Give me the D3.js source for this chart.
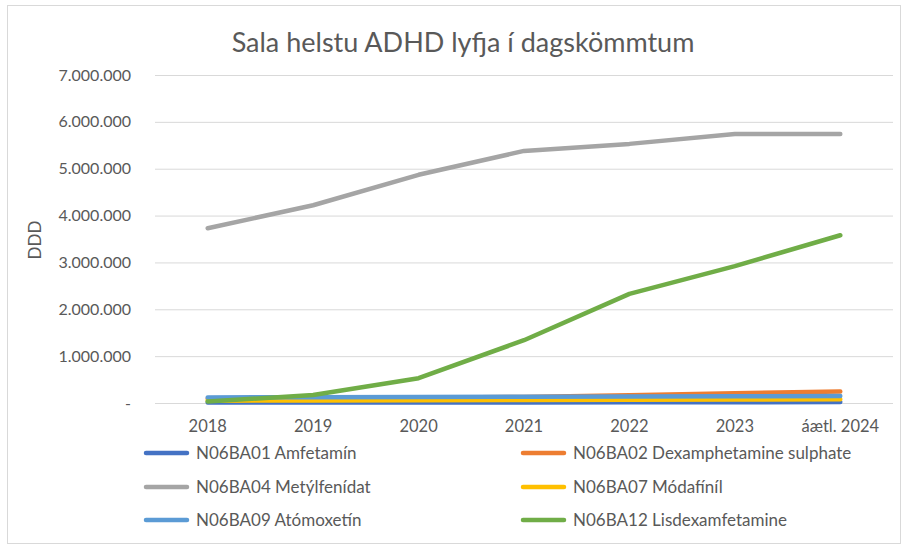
<!DOCTYPE html>
<html>
<head>
<meta charset="utf-8">
<script src="https://cdn.jsdelivr.net/npm/d3@7"></script>
<style>
  body { margin: 0; background: #fff; }
  text { font-family: Lato, "Noto Sans", sans-serif; }
</style>
</head>
<body>
<div id="vis"></div>
<script>
// data
const YEARS = ["2018", "2019", "2020", "2021", "2022", "2023", "áætl. 2024"];
const SERIES_NAMES = ["N06BA01 Amfetamín", "N06BA02 Dexamphetamine sulphate", "N06BA04 Metýlfenídat",
                      "N06BA07 Módafíníl", "N06BA09 Atómoxetín", "N06BA12 Lisdexamfetamine"];
const AMFETAMIN = [10000, 10000, 10000, 12000, 15000, 18000, 20000];
const DEXAMPH = [90000, 100000, 110000, 130000, 165000, 210000, 245000];
const METYL = [3730000, 4220000, 4870000, 5380000, 5530000, 5740000, 5740000];
const MODAF = [50000, 55000, 60000, 65000, 70000, 75000, 80000];
const ATOMOX = [120000, 125000, 130000, 135000, 140000, 145000, 150000];
const LISDEX = [30000, 170000, 530000, 1340000, 2330000, 2920000, 3580000];
const Y_TICKS = [0, 1000000, 2000000, 3000000, 4000000, 5000000, 6000000, 7000000];
const COLORS = ["#4472C4", "#ED7D31", "#A5A5A5", "#FFC000", "#5B9BD5", "#70AD47"];

const FRAME_WIDTH = 902;
const FRAME_HEIGHT = 547;
const MARGINS = {left: 155, right: 9, top: 75, bottom: 144};
const VIS_WIDTH = FRAME_WIDTH - MARGINS.left - MARGINS.right;
const VIS_HEIGHT = FRAME_HEIGHT - MARGINS.top - MARGINS.bottom;

const FRAME = d3.select("#vis")
                .append("svg")
                  .attr("width", FRAME_WIDTH)
                  .attr("height", FRAME_HEIGHT);

// outer chart border
FRAME.append("rect")
     .attr("x", 7.5).attr("y", 5.5)
     .attr("width", 893).attr("height", 538)
     .attr("fill", "none")
     .attr("stroke", "#d9d9d9");

// title
FRAME.append("text")
     .attr("x", 463).attr("y", 52)
     .attr("text-anchor", "middle")
     .attr("font-size", "27px")
     .attr("fill", "#595959")
     .text("Sala helstu ADHD lyfja í dagskömmtum");

const X_SCALE = d3.scaleBand()
                  .domain(YEARS)
                  .range([0, VIS_WIDTH]);

const Y_SCALE = d3.scaleLinear()
                  .domain([0, 7000000])
                  .range([VIS_HEIGHT, 0]);

const fmt = (v) => v === 0 ? "-" : d3.format(",")(v).replace(/,/g, ".");

const G = FRAME.append("g")
               .attr("transform", "translate(" + MARGINS.left + "," + MARGINS.top + ")");

// gridlines
G.append("g")
 .selectAll("line")
 .data(Y_TICKS)
 .enter()
 .append("line")
   .attr("x1", 0).attr("x2", VIS_WIDTH)
   .attr("y1", (d) => Y_SCALE(d) + 0.5)
   .attr("y2", (d) => Y_SCALE(d) + 0.5)
   .attr("stroke", "#d9d9d9")
   .attr("stroke-width", 1);

// y axis labels
const yAxis = G.append("g")
               .attr("transform", "translate(-21,0)")
               .call(d3.axisLeft(Y_SCALE).tickValues(Y_TICKS).tickFormat(fmt).tickSize(0));
yAxis.select(".domain").remove();
yAxis.selectAll("text")
     .attr("font-size", "16px")
     .attr("fill", "#595959")
     .attr("font-family", "Lato, 'Noto Sans', sans-serif");

// x axis labels
const xAxis = G.append("g")
               .attr("transform", "translate(0," + (VIS_HEIGHT + 14) + ")")
               .call(d3.axisBottom(X_SCALE).tickSize(0));
xAxis.select(".domain").remove();
xAxis.selectAll("text")
     .attr("font-size", "16.5px")
     .attr("fill", "#595959")
     .attr("font-family", "Lato, 'Noto Sans', sans-serif");

// y label
FRAME.append("text")
     .attr("transform", "translate(41,240) rotate(-90)")
     .attr("text-anchor", "middle")
     .attr("font-size", "17px")
     .attr("fill", "#595959")
     .text("DDD");

// lines
const ALL = [AMFETAMIN, DEXAMPH, METYL, MODAF, ATOMOX, LISDEX];
const line = d3.line()
               .x((d, i) => X_SCALE(YEARS[i]) + X_SCALE.bandwidth() / 2)
               .y((d) => Y_SCALE(d));

G.selectAll(".series")
 .data(ALL)
 .enter()
 .append("path")
   .attr("class", "series")
   .attr("d", (d) => line(d))
   .attr("fill", "none")
   .attr("stroke", (d, i) => COLORS[i])
   .attr("stroke-width", 4.5)
   .attr("stroke-linejoin", "round")
   .attr("stroke-linecap", "round");

// legend
const LEG_X = [145, 522];
const LEG_Y = [453, 487, 520];
const legend = FRAME.append("g")
                    .selectAll("g")
                    .data(SERIES_NAMES)
                    .enter()
                    .append("g")
                      .attr("transform", (d, i) => "translate(" + LEG_X[i % 2] + "," + LEG_Y[Math.floor(i / 2)] + ")");
legend.append("line")
      .attr("x1", 1).attr("x2", 42)
      .attr("stroke", (d, i) => COLORS[i])
      .attr("stroke-width", 4.5)
      .attr("stroke-linecap", "round");
legend.append("text")
      .attr("x", 51).attr("y", 6)
      .attr("font-size", "17px")
      .attr("fill", "#595959")
      .text((d) => d);
</script>
</body>
</html>
